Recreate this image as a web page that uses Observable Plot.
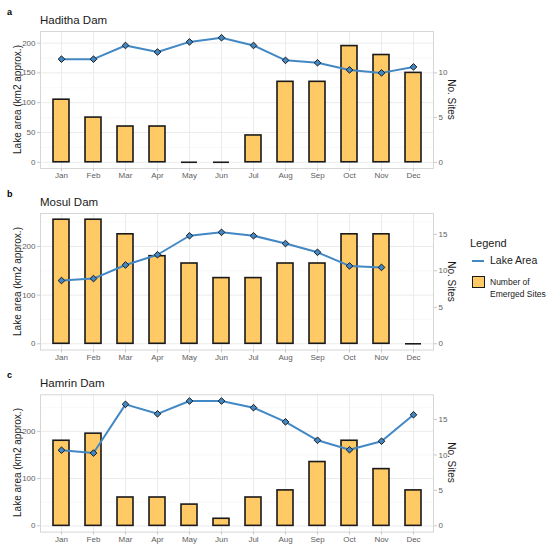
<!DOCTYPE html>
<html>
<head>
<meta charset="utf-8">
<script src="https://cdn.jsdelivr.net/npm/d3@7"></script>
<script src="https://cdn.jsdelivr.net/npm/@observablehq/plot@0.6"></script>
<style>
  body { margin:0; background:#fff; }
  #root { position:relative; width:550px; height:550px; font-family:"Liberation Sans", Arial, sans-serif; overflow:hidden; }
  .abs { position:absolute; white-space:nowrap; }
  .plab { font-size:9px; font-weight:bold; color:#000; }
  .ptitle { font-size:11.5px; color:#1a1a1a; }
  .ylab { font-size:10px; color:#1a1a1a; transform-origin:center center; }
</style>
</head>
<body>
<div id="root"></div>
<script>
const months = ["Jan","Feb","Mar","Apr","May","Jun","Jul","Aug","Sep","Oct","Nov","Dec"];

const hadithaArea  = [173,173,196,185,202,209,196,171,167,155,150,160];
const hadithaSites = [7,5,4,4,0,0,3,9,9,13,12,10];

const mosulArea  = [130,134,162,183,222,229,222,206,188,160,157,null];
const mosulSites = [17,17,15,12,11,9,9,11,11,15,15,0];

const hamrinArea  = [160,154,257,237,264,264,250,220,181,161,179,235];
const hamrinSites = [12,13,4,4,3,1,4,5,9,12,8,5];

const siteFactor = 15; // secondary axis: No. Sites = area / 15

const panels = [
  {label:"a", title:"Haditha Dam", area:hadithaArea, sites:hadithaSites,
   areaTicks:[0,50,100,150,200], areaMinor:[25,75,125,175], siteTicks:[0,5,10],
   top:0, height:183, mt:31, mb:15},
  {label:"b", title:"Mosul Dam", area:mosulArea, sites:mosulSites,
   areaTicks:[0,100,200], areaMinor:[50,150,250], siteTicks:[0,5,10,15],
   top:183, height:183, mt:30, mb:16.5},
  {label:"c", title:"Hamrin Dam", area:hamrinArea, sites:hamrinSites,
   areaTicks:[0,100,200], areaMinor:[50,150,250], siteTicks:[0,5,10,15],
   top:366, height:184, mt:28.3, mb:18.4}
];

const root = document.getElementById("root");
const barFill = "#ffc966";
const lineColor = "#4288c4";
const gridCol = "#ebebeb";
const textCol = "#5e5e5e";

function addText(cls, text, x, y, extra) {
  const d = document.createElement("div");
  d.className = "abs " + cls;
  d.textContent = text;
  d.style.left = x + "px";
  d.style.top = y + "px";
  if (extra) Object.assign(d.style, extra);
  root.appendChild(d);
  return d;
}

panels.forEach(p => {
  const rows = months.map((m, i) => ({month:m, area:p.area[i], sites:p.sites[i]}));
  const maxV = d3.max(rows, d => Math.max(d.area ?? 0, d.sites * siteFactor));
  const pad = maxV * 0.05;
  const chart = Plot.plot({
    width:550, height:p.height,
    marginLeft:40, marginRight:117, marginTop:p.mt, marginBottom:p.mb,
    style:{fontFamily:"Liberation Sans, Arial, sans-serif", background:"#fff"},
    x:{type:"band", domain:months, paddingInner:0.5, paddingOuter:0.35, axis:null},
    y:{domain:[-pad, maxV + pad], axis:null},
    marks:[
      Plot.ruleY(p.areaMinor, {stroke:"#f4f4f4", strokeWidth:0.6}),
      Plot.ruleY(p.areaTicks, {stroke:gridCol, strokeWidth:1}),
      Plot.gridX({stroke:gridCol, strokeOpacity:1, strokeWidth:1}),
      Plot.barY(rows.filter(d => d.sites > 0), {x:"month", y:d => d.sites * siteFactor, fill:barFill, stroke:"#1a1a1a", strokeWidth:1.6}),
      Plot.tickY(rows.filter(d => d.sites === 0), {x:"month", y:d => d.sites * siteFactor, stroke:"#1a1a1a", strokeWidth:1.6}),
      Plot.line(rows.filter(d => d.area != null), {x:"month", y:"area", stroke:lineColor, strokeWidth:2}),
      Plot.dot(rows.filter(d => d.area != null), {x:"month", y:"area", symbol:"diamond2", r:3, fill:lineColor, stroke:"#1a1a1a", strokeWidth:1}),
      Plot.frame({stroke:"#d6d6d6", strokeWidth:1}),
      Plot.axisY({ticks:p.areaTicks, tickSize:3, tickPadding:2, label:null, fontSize:8, stroke:"#c8c8c8", fill:textCol}),
      Plot.axisY({anchor:"right", ticks:p.siteTicks.map(s => s * siteFactor), tickFormat:v => v / siteFactor, tickSize:3, tickPadding:2, label:null, fontSize:8, stroke:"#c8c8c8", fill:textCol}),
      Plot.axisX({tickSize:3, tickPadding:1, label:null, fontSize:8, stroke:"#c8c8c8", fill:textCol})
    ]
  });
  const holder = document.createElement("div");
  holder.className = "abs";
  holder.style.left = "0px";
  holder.style.top = p.top + "px";
  holder.appendChild(chart);
  root.appendChild(holder);

  const frameTop = p.top + p.mt;
  const frameBottom = p.top + p.height - p.mb;
  const midY = (frameTop + frameBottom) / 2;
  addText("plab", p.label, 7, frameTop - 24);
  addText("ptitle", p.title, 40, frameTop - 17);
  const yl = addText("ylab", "Lake area (km2 approx.)", 0, 0);
  const w1 = yl.offsetWidth, h1 = yl.offsetHeight;
  yl.style.left = (17 - w1 / 2) + "px";
  yl.style.top = (midY - h1 / 2) + "px";
  yl.style.transform = "rotate(-90deg)";
  const yr = addText("ylab", "No. Sites", 0, 0);
  const w2 = yr.offsetWidth, h2 = yr.offsetHeight;
  yr.style.left = (451 - w2 / 2) + "px";
  yr.style.top = (midY - h2 / 2) + "px";
  yr.style.transform = "rotate(90deg)";
});

// Legend
addText("", "Legend", 470, 237, {fontSize:"11px", color:"#1a1a1a"});
const key1 = document.createElement("div");
Object.assign(key1.style, {position:"absolute", left:"472px", top:"260px", width:"12px", height:"2px", background:lineColor});
root.appendChild(key1);
addText("", "Lake Area", 490, 254, {fontSize:"10.5px", color:"#1a1a1a"});
const key2 = document.createElement("div");
Object.assign(key2.style, {position:"absolute", left:"472px", top:"276px", width:"11px", height:"10px", background:barFill, border:"1.5px solid #1a1a1a"});
root.appendChild(key2);
addText("", "Number of", 490, 277, {fontSize:"8.5px", color:"#1a1a1a"});
addText("", "Emerged Sites", 490, 289, {fontSize:"8.5px", color:"#1a1a1a"});
</script>
</body>
</html>
